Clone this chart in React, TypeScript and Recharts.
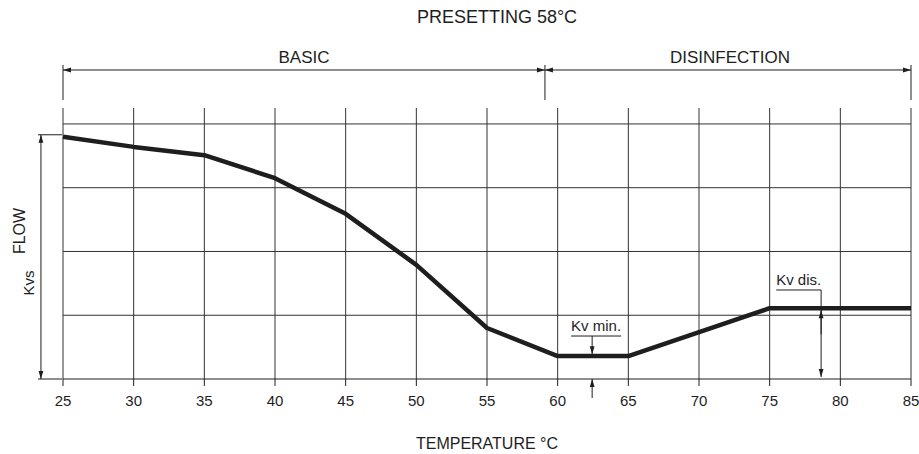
import React from 'react';
import { ComposedChart, Line, XAxis, YAxis, ReferenceLine } from 'recharts';

// Flow curve (grid units, 0 = bottom line, 4 = top line)
const temps = [25, 30, 35, 40, 45, 50, 55, 60, 65, 75, 85];
const flow = [3.8, 3.64, 3.51, 3.15, 2.59, 1.79, 0.8, 0.36, 0.36, 1.11, 1.11];
const xTicks = [25, 30, 35, 40, 45, 50, 55, 60, 65, 70, 75, 80, 85];
const gridRows = [1, 2, 3, 4];

// phase split
const phaseStart = 25;
const phaseSplit = 59.1;
const phaseEnd = 85;

const FONT = '"Liberation Sans", Arial, Helvetica, sans-serif';
const INK = '#1e1e1e';

const data = temps.map((t, i) => ({ t, flow: flow[i] }));

type Seg = { x1: number; y1: number; x2: number; y2: number };

const head = (tipX: number, tipY: number, fromX: number, fromY: number, key: string) => {
  const dx = tipX - fromX;
  const dy = tipY - fromY;
  const len = Math.hypot(dx, dy) || 1;
  const ux = dx / len;
  const uy = dy / len;
  const L = 8;
  const W = 2.4;
  const bx = tipX - ux * L;
  const by = tipY - uy * L;
  const pts = `${tipX},${tipY} ${bx - uy * W},${by + ux * W} ${bx + uy * W},${by - ux * W}`;
  return <polygon key={key} points={pts} fill={INK} />;
};

const arrow = (atStart: boolean, atEnd: boolean, width = 1) => (p: any) => {
  const { x1, y1, x2, y2 } = p as Seg;
  return (
    <g>
      <line x1={x1} y1={y1} x2={x2} y2={y2} stroke={INK} strokeWidth={width} />
      {atStart && head(x1, y1, x2, y2, 's')}
      {atEnd && head(x2, y2, x1, y1, 'e')}
    </g>
  );
};

const plain = (color = INK) => (p: any) => {
  const { x1, y1, x2, y2 } = p as Seg;
  return <line x1={x1} y1={y1} x2={x2} y2={y2} stroke={color} strokeWidth={1} />;
};

const underlined = (text: string) => (p: any) => {
  const { x1, y1, x2, y2 } = p as Seg;
  return (
    <g>
      <line x1={x1} y1={y1} x2={x2} y2={y2} stroke={INK} strokeWidth={1} />
      <text x={x1} y={y1 - 5} fontSize={15} fill={INK} fontFamily={FONT}>
        {text}
      </text>
    </g>
  );
};

const TOP_ARROW = 4.846;
const SEP_TOP = 4.925;
const SEP_BOT = 4.376;

export default function App() {
  return (
    <div style={{ position: 'relative', width: 919, height: 454, background: '#fff', fontFamily: FONT }}>
      <style>{'body{margin:0}'}</style>
      <ComposedChart
        width={919}
        height={454}
        data={data}
        margin={{ top: 108, right: 8, bottom: 45, left: 63 }}
        style={{ fontFamily: FONT }}
      >
        <XAxis
          dataKey="t"
          type="number"
          domain={[25, 85]}
          ticks={xTicks}
          height={30}
          tickSize={7}
          tickMargin={9}
          axisLine={{ stroke: INK, strokeWidth: 1 }}
          tickLine={{ stroke: INK, strokeWidth: 1 }}
          tick={{ fill: INK, fontSize: 15, fontFamily: FONT }}
        />
        <YAxis hide type="number" domain={[0, 4.25]} />

        {xTicks.map((t) => (
          <ReferenceLine key={`v${t}`} x={t} stroke="#333" strokeWidth={1} ifOverflow="visible" />
        ))}
        {gridRows.map((r) => (
          <ReferenceLine key={`h${r}`} y={r} stroke="#333" strokeWidth={1} ifOverflow="visible" />
        ))}

        {/* phase brackets */}
        {[phaseStart, phaseSplit, phaseEnd].map((x) => (
          <ReferenceLine
            key={`sep${x}`}
            segment={[{ x, y: SEP_BOT }, { x, y: SEP_TOP }]}
            ifOverflow="visible"
            shape={plain()}
          />
        ))}
        <ReferenceLine
          segment={[{ x: phaseStart, y: TOP_ARROW }, { x: phaseSplit, y: TOP_ARROW }]}
          ifOverflow="visible"
          shape={arrow(true, true)}
        />
        <ReferenceLine
          segment={[{ x: phaseSplit, y: TOP_ARROW }, { x: phaseEnd, y: TOP_ARROW }]}
          ifOverflow="visible"
          shape={arrow(true, true)}
        />

        {/* Kvs dimension */}
        <ReferenceLine segment={[{ x: 23.23, y: 3.83 }, { x: 24.93, y: 3.83 }]} ifOverflow="visible" shape={plain()} />
        <ReferenceLine segment={[{ x: 23.23, y: 0 }, { x: 24.93, y: 0 }]} ifOverflow="visible" shape={plain()} />
        <ReferenceLine segment={[{ x: 23.44, y: 3.83 }, { x: 23.44, y: 0 }]} ifOverflow="visible" shape={arrow(true, true)} />

        {/* Kv min */}
        <ReferenceLine segment={[{ x: 60.95, y: 0.674 }, { x: 64.49, y: 0.674 }]} ifOverflow="visible" shape={underlined('Kv min.')} />
        <ReferenceLine segment={[{ x: 62.44, y: 0.674 }, { x: 62.44, y: 0.39 }]} ifOverflow="visible" shape={arrow(false, true)} />
        <ReferenceLine segment={[{ x: 62.44, y: -0.298 }, { x: 62.44, y: 0 }]} ifOverflow="visible" shape={arrow(false, true)} />

        {/* Kv dis */}
        <ReferenceLine segment={[{ x: 75.46, y: 1.396 }, { x: 78.64, y: 1.396 }]} ifOverflow="visible" shape={underlined('Kv dis.')} />
        <ReferenceLine segment={[{ x: 78.64, y: 1.396 }, { x: 78.64, y: 0.03 }]} ifOverflow="visible" shape={arrow(false, true)} />
        <ReferenceLine segment={[{ x: 78.64, y: 0.7 }, { x: 78.64, y: 1.08 }]} ifOverflow="visible" shape={arrow(false, true)} />

        <Line
          dataKey="flow"
          type="linear"
          stroke={INK}
          strokeWidth={4.5}
          strokeLinejoin="round"
          dot={false}
          activeDot={false}
          isAnimationActive={false}
        />
      </ComposedChart>

      <svg
        width={919}
        height={454}
        style={{ position: 'absolute', left: 0, top: 0, pointerEvents: 'none' }}
        fontFamily={FONT}
        fill={INK}
      >
        <text x={497} y={22.5} fontSize={18} textAnchor="middle">
          PRESETTING 58°C
        </text>
        <text x={304} y={63} fontSize={17} textAnchor="middle">
          BASIC
        </text>
        <text x={730} y={63} fontSize={17} textAnchor="middle">
          DISINFECTION
        </text>
        <text x={487} y={449} fontSize={16} textAnchor="middle">
          TEMPERATURE °C
        </text>
        <text x={25} y={231} fontSize={16} textAnchor="middle" transform="rotate(-90 25 231)">
          FLOW
        </text>
        <text x={34} y={283} fontSize={15} textAnchor="middle" transform="rotate(-90 34 283)">
          Kvs
        </text>
      </svg>
    </div>
  );
}
